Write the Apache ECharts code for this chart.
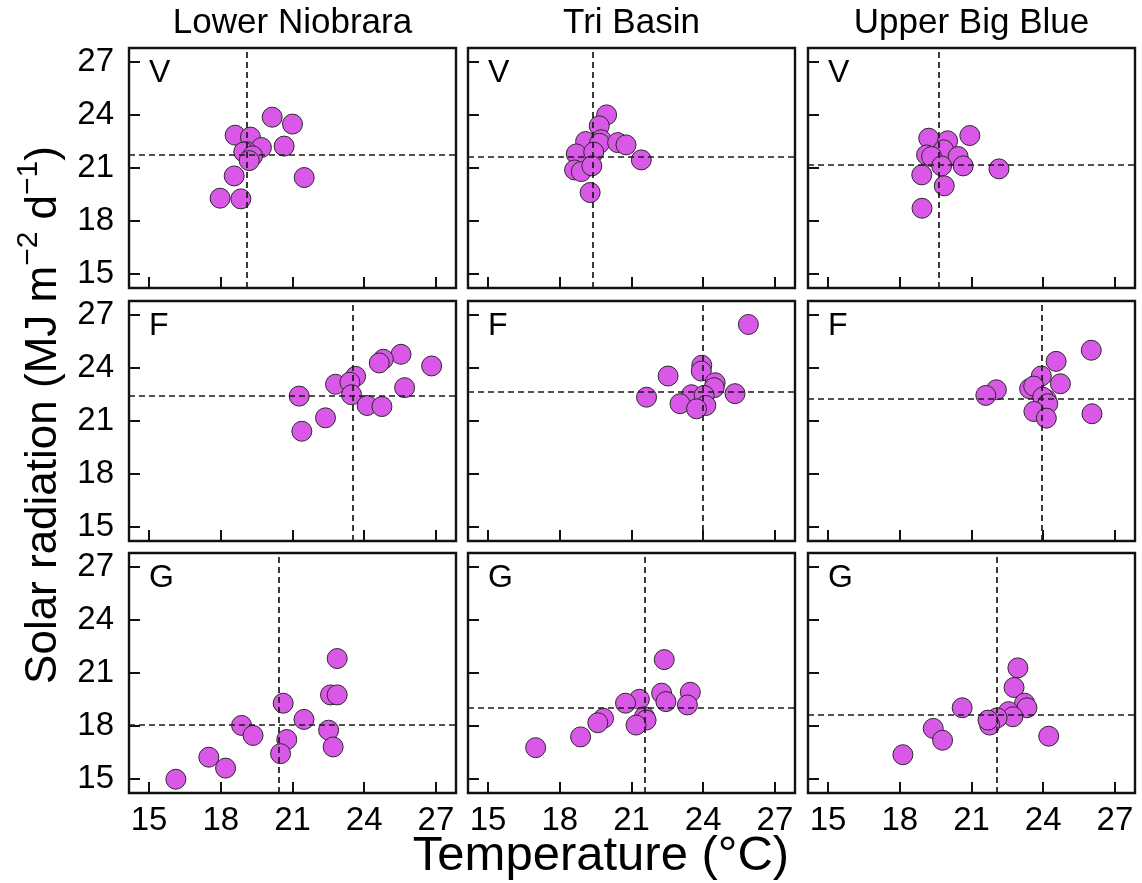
<!DOCTYPE html>
<html>
<head>
<meta charset="utf-8">
<script src="https://cdn.jsdelivr.net/npm/echarts@6/dist/echarts.min.js"></script>
<style>
html,body{margin:0;padding:0;background:#fff;}
#chart{width:1142px;height:883px;}
</style>
</head>
<body>
<div id="chart"></div>
<script>
// ---- data ----
const basins = ['Lower Niobrara', 'Tri Basin', 'Upper Big Blue'];
const stages = ['V', 'F', 'G'];
const tickValues = [15, 18, 21, 24, 27];

// [temperature °C, solar radiation MJ m-2 d-1]
const lowerNiobrara_V = [[20.15,23.88],[21.0,23.49],[18.6,22.86],[19.24,22.75],[20.65,22.24],[19.7,22.16],[19.08,21.93],[18.96,21.91],[19.33,21.69],[19.19,21.42],[18.56,20.55],[21.49,20.46],[17.97,19.29],[18.84,19.25]];
const triBasin_V = [[19.96,24.01],[19.65,23.39],[19.08,22.5],[19.73,22.6],[19.66,22.4],[20.42,22.44],[20.77,22.31],[18.69,21.8],[19.42,21.9],[21.41,21.46],[18.62,20.89],[18.9,20.8],[19.34,21.12],[19.27,19.61]];
const upperBigBlue_V = [[20.93,22.84],[19.21,22.69],[20.0,22.54],[19.83,22.03],[19.12,21.74],[19.33,21.65],[20.44,21.65],[19.75,21.12],[20.65,21.12],[22.15,20.95],[18.92,20.61],[19.86,19.99],[18.93,18.72]];

const lowerNiobrara_F = [[25.54,24.78],[24.8,24.5],[24.63,24.29],[26.82,24.12],[23.64,23.53],[22.8,23.08],[23.4,23.2],[25.69,22.89],[21.28,22.41],[23.47,22.49],[24.12,21.88],[24.74,21.82],[22.38,21.18],[21.39,20.42]];
const triBasin_F = [[25.89,26.47],[23.94,24.16],[23.92,23.83],[22.53,23.55],[24.5,23.17],[24.46,22.89],[25.33,22.55],[21.63,22.35],[23.51,22.49],[24.04,22.45],[23.03,21.98],[24.11,21.88],[23.72,21.69]];
const upperBigBlue_F = [[26.01,25.01],[24.54,24.38],[23.92,23.55],[24.72,23.11],[22.04,22.77],[21.6,22.45],[23.43,22.83],[23.6,22.98],[24.13,22.22],[23.98,22.35],[24.19,21.98],[23.61,21.54],[26.04,21.41],[24.13,21.16]];

const lowerNiobrara_G = [[22.87,21.82],[22.59,19.76],[22.87,19.76],[20.61,19.29],[21.48,18.37],[18.87,18.03],[22.51,17.76],[19.35,17.46],[20.76,17.23],[22.7,16.81],[20.5,16.43],[17.5,16.23],[18.2,15.61],[16.12,14.98]];
const triBasin_G = [[22.37,21.76],[23.46,19.91],[22.26,19.86],[22.44,19.38],[23.34,19.19],[21.33,19.51],[20.75,19.29],[21.54,18.52],[21.61,18.33],[21.19,18.05],[19.83,18.43],[19.59,18.18],[18.87,17.38],[16.99,16.77]];
const upperBigBlue_G = [[22.94,21.29],[22.78,20.18],[23.22,19.29],[23.32,19.03],[22.55,18.81],[22.73,18.52],[20.61,19.03],[22.07,18.46],[21.76,18.05],[21.69,18.33],[19.4,17.86],[19.79,17.19],[24.23,17.42],[18.13,16.37]];

// means (dashed reference lines) rows: V, F, G ; columns: basins
const meanTemp = [[19.1, 19.38, 19.64], [23.54, 24.0, 23.94], [20.44, 21.54, 22.07]];
const meanRad  = [[21.74, 21.65, 21.18], [22.45, 22.64, 22.24], [18.09, 19.03, 18.66]];

const panelData = [
  [lowerNiobrara_V, triBasin_V, upperBigBlue_V],
  [lowerNiobrara_F, triBasin_F, upperBigBlue_F],
  [lowerNiobrara_G, triBasin_G, upperBigBlue_G]
];

// ---- layout ----
const FONT = '"Liberation Sans", Arial, Helvetica, sans-serif';
const colLeft = [129, 468, 808];
const rowTop = [48, 301, 553];
const W = 327, H = 240;

const grids = [], xAxes = [], yAxes = [], series = [], graphics = [];
for (let r = 0; r < 3; r++) {
  for (let c = 0; c < 3; c++) {
    const i = r * 3 + c;
    grids.push({left: colLeft[c], top: rowTop[r], width: W, height: H, show: true,
      borderColor: '#111', borderWidth: 2.4, backgroundColor: 'transparent', containLabel: false});
    xAxes.push({gridIndex: i, type: 'value', min: 14.16, max: 27.84,
      axisLine: {show: false, onZero: false}, splitLine: {show: false},
      axisTick: {show: true, inside: true, length: 11, customValues: tickValues, lineStyle: {color: '#111', width: 2}},
      axisLabel: {show: r === 2, customValues: tickValues, fontSize: 33, color: '#000', margin: 11, fontFamily: FONT}});
    yAxes.push({gridIndex: i, type: 'value', min: 14.2, max: 27.8,
      axisLine: {show: false, onZero: false}, splitLine: {show: false},
      axisTick: {show: true, inside: true, length: 11, customValues: tickValues, lineStyle: {color: '#111', width: 2}},
      axisLabel: {show: c === 0, customValues: tickValues, fontSize: 33, color: '#000', margin: 15, fontFamily: FONT}});
    series.push({type: 'line', xAxisIndex: i, yAxisIndex: i, data: [], z: 2, silent: true,
      markLine: {silent: true, symbol: ['none', 'none'], animation: false, label: {show: false},
        lineStyle: {type: [6, 4], color: '#1a1a1a', width: 1.7},
        data: [{xAxis: meanTemp[r][c]}, {yAxis: meanRad[r][c]}]}});
    series.push({type: 'scatter', xAxisIndex: i, yAxisIndex: i, data: panelData[r][c], z: 3,
      symbol: 'circle', symbolSize: 20,
      itemStyle: {color: '#DA58E8', borderColor: '#2a2a2a', borderWidth: 1, opacity: 1}});
    graphics.push({type: 'text', x: colLeft[c] + 20, y: rowTop[r] + 25, z: 10,
      style: {text: stages[r], font: '32px ' + FONT, fill: '#000', align: 'left', verticalAlign: 'middle', textAlign: 'left', textVerticalAlign: 'middle'}});
  }
}
for (let c = 0; c < 3; c++) {
  graphics.push({type: 'text', x: colLeft[c] + W / 2, y: 23, z: 10,
    style: {text: basins[c], font: '35px ' + FONT, fill: '#000', align: 'center', verticalAlign: 'middle', textAlign: 'center', textVerticalAlign: 'middle'}});
}
graphics.push({type: 'text', x: 601, y: 856, z: 10,
  style: {text: 'Temperature (°C)', font: '49px ' + FONT, fill: '#000', align: 'center', verticalAlign: 'middle', textAlign: 'center', textVerticalAlign: 'middle'}});
graphics.push({type: 'text', x: 40, y: 415, rotation: Math.PI / 2, z: 10,
  style: {text: '{m|Solar radiation (MJ m}{s|−2}{m| d}{s|−1}{m|)}', fill: '#000',
    align: 'center', verticalAlign: 'middle', textAlign: 'center', textVerticalAlign: 'middle',
    rich: {m: {fontSize: 44, fontFamily: FONT, color: '#000', lineHeight: 52, verticalAlign: 'bottom'},
           s: {fontSize: 30, fontFamily: FONT, color: '#000', lineHeight: 52, verticalAlign: 'top'}}}});

const chart = echarts.init(document.getElementById('chart'), null, {renderer: 'canvas'});
chart.setOption({
  animation: false,
  backgroundColor: '#fff',
  grid: grids, xAxis: xAxes, yAxis: yAxes, series: series, graphic: graphics
});
</script>
</body>
</html>
